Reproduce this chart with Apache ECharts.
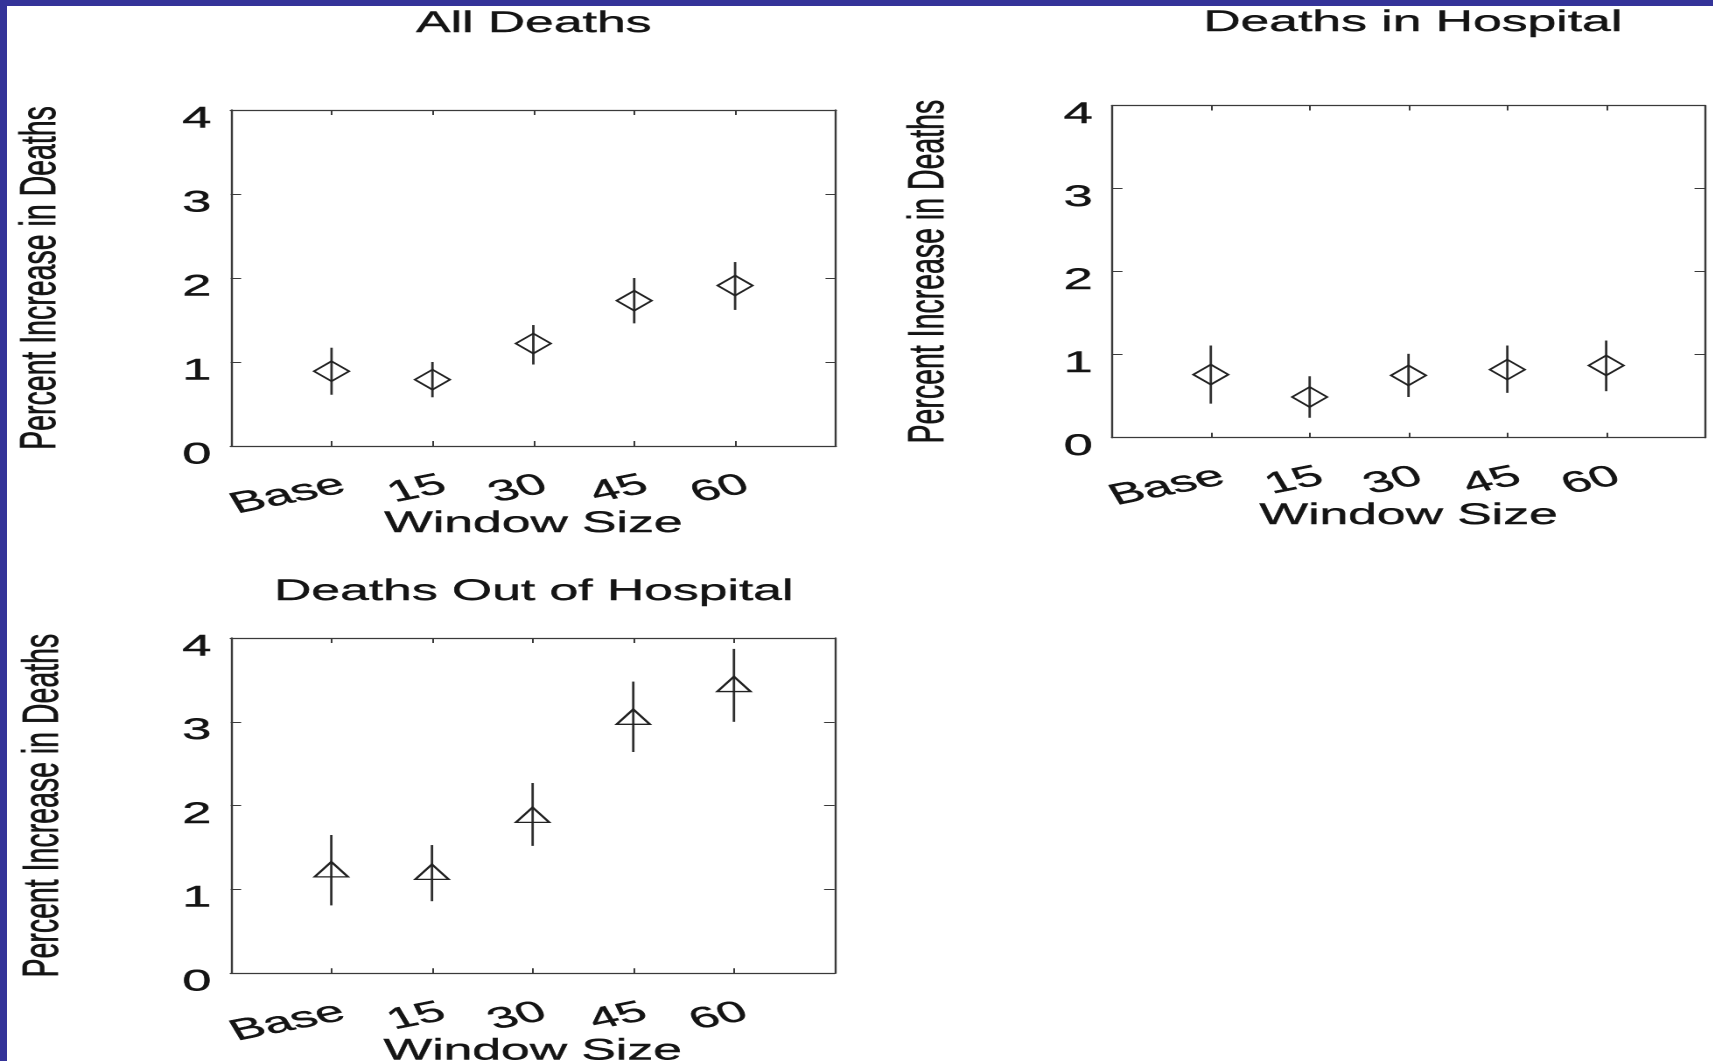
<!DOCTYPE html>
<html>
<head>
<meta charset="utf-8">
<script src="https://cdn.jsdelivr.net/npm/echarts@6/dist/echarts.min.js"></script>
<style>
	html, body { margin: 0; padding: 0; overflow: hidden; background: #fff; }
	#frame {
		position: absolute; left: 0; top: 0; width: 1713px; height: 1061px;
		box-sizing: border-box; border-top: 6px solid #343399; border-left: 7px solid #343399;
	}
	/* the scanned figure is stretched sideways, so the chart is drawn narrow and widened */
	#chart {
		position: absolute; left: 0; top: 0; width: 979px; height: 1061px;
		transform: scaleX(1.75); transform-origin: 0 0;
	}
</style>
</head>
<body>
<div id="frame"></div>
<div id="chart"></div>
<script>
	var windowSizes = ['Base', '15', '30', '45', '60'];
	var yTicks = [0, 1, 2, 3, 4];

	var allDeaths = [0.89, 0.79, 1.22, 1.73, 1.91];
	var allDeathsLow = [0.61, 0.58, 0.97, 1.46, 1.62];
	var allDeathsHigh = [1.17, 1.0, 1.44, 2.0, 2.19];

	var inHospital = [0.76, 0.49, 0.75, 0.82, 0.87];
	var inHospitalLow = [0.41, 0.24, 0.49, 0.54, 0.56];
	var inHospitalHigh = [1.11, 0.74, 1.01, 1.11, 1.17];

	var outHospital = [1.24, 1.21, 1.89, 3.06, 3.45];
	var outHospitalLow = [0.81, 0.86, 1.52, 2.64, 3.0];
	var outHospitalHigh = [1.65, 1.53, 2.27, 3.48, 3.87];

	var font = "'Liberation Sans', Arial, sans-serif";
	var ink = '#141414';
	var lineCol = '#3a3a3a';

	var panels = [
		{title: 'All Deaths', titleX: 300, titleY: 4, grid: {left: 131.8, top: 110, width: 345.9, height: 336},
			nameGap: 93.5, mid: allDeaths, low: allDeathsLow, high: allDeathsHigh, symbol: 'diamond', size: 20},
		{title: 'Deaths in Hospital', titleX: 802.3, titleY: 3, grid: {left: 635.4, top: 105.5, width: 338.9, height: 332.2},
			nameGap: 90, mid: inHospital, low: inHospitalLow, high: inHospitalHigh, symbol: 'diamond', size: 20},
		{title: 'Deaths Out of Hospital', titleX: 300, titleY: 572, grid: {left: 131.8, top: 638, width: 345.1, height: 335.3},
			nameGap: 92, mid: outHospital, low: outHospitalLow, high: outHospitalHigh, symbol: 'triangle', size: [19, 15]}
	];

	function textStyle(size) {
		return {fontSize: size, color: ink, fontFamily: font, textBorderColor: ink, textBorderWidth: 0.4};
	}

	function xAxes(k) {
		var base = {
			gridIndex: k, type: 'value', min: -1, max: 5, interval: 1,
			axisLine: {show: true, onZero: false, lineStyle: {color: lineCol, width: 1.2}},
			axisTick: {show: true, inside: true, length: 5, lineStyle: {color: lineCol, width: 1}},
			splitLine: {show: false}
		};
		var bottom = Object.assign({}, base, {
			position: 'bottom',
			name: 'Window Size', nameLocation: 'middle', nameGap: 63, nameMoveOverlap: false,
			nameTextStyle: textStyle(29.5),
			axisLabel: Object.assign(textStyle(29.5), {
				rotate: 19, margin: 18, verticalAlign: 'top', lineHeight: 42,
				formatter: function (v) { return windowSizes[v] || ''; }
			})
		});
		var top = Object.assign({}, base, {position: 'top', axisLabel: {show: false}});
		return [bottom, top];
	}

	function yAxes(k, nameGap) {
		var base = {
			gridIndex: k, type: 'value', min: yTicks[0], max: yTicks[yTicks.length - 1], interval: 1,
			axisLine: {show: true, onZero: false, lineStyle: {color: lineCol, width: 1.2}},
			axisTick: {show: true, inside: true, length: 6, lineStyle: {color: lineCol, width: 1}},
			splitLine: {show: false}
		};
		var left = Object.assign({}, base, {
			position: 'left',
			name: 'Percent Increase in Deaths', nameLocation: 'middle', nameGap: nameGap, nameMoveOverlap: false,
			nameTextStyle: textStyle(28.5),
			axisLabel: Object.assign(textStyle(30), {margin: 11, verticalAlign: 'top', lineHeight: 18})
		});
		var right = Object.assign({}, base, {position: 'right', axisLabel: {show: false}});
		return [left, right];
	}

	function errorBars(k, low, high) {
		return {
			type: 'custom', xAxisIndex: 2 * k, yAxisIndex: 2 * k, z: 2,
			data: low.map(function (lo, i) { return [i, lo, high[i]]; }),
			renderItem: function (params, api) {
				var a = api.coord([api.value(0), api.value(1)]);
				var b = api.coord([api.value(0), api.value(2)]);
				return {
					type: 'line',
					shape: {x1: a[0], y1: a[1], x2: b[0], y2: b[1]},
					style: {stroke: '#2e2e2e', lineWidth: 1.4}
				};
			}
		};
	}

	function points(k, mid, symbol, size) {
		return {
			type: 'scatter', xAxisIndex: 2 * k, yAxisIndex: 2 * k, z: 3,
			symbol: symbol, symbolSize: size,
			itemStyle: {color: 'rgba(0,0,0,0)', borderColor: '#222', borderWidth: 1.5, opacity: 1},
			data: mid.map(function (v, i) { return [i, v]; })
		};
	}

	function drawCharts() {
		var chart = echarts.init(document.getElementById('chart'), null, {devicePixelRatio: 2});
		var option = {
			animation: false,
			backgroundColor: 'transparent',
			title: [], grid: [], xAxis: [], yAxis: [], series: []
		};
		panels.forEach(function (p, k) {
			option.title.push({
				text: p.title, left: p.titleX, top: p.titleY, textAlign: 'center',
				textStyle: Object.assign(textStyle(29.5), {fontWeight: 'normal'})
			});
			option.grid.push(Object.assign({containLabel: false, outerBoundsMode: 'none'}, p.grid));
			option.xAxis = option.xAxis.concat(xAxes(k));
			option.yAxis = option.yAxis.concat(yAxes(k, p.nameGap));
			option.series.push(errorBars(k, p.low, p.high));
			option.series.push(points(k, p.mid, p.symbol, p.size));
		});
		chart.setOption(option);
	}

	drawCharts();
</script>
</body>
</html>
